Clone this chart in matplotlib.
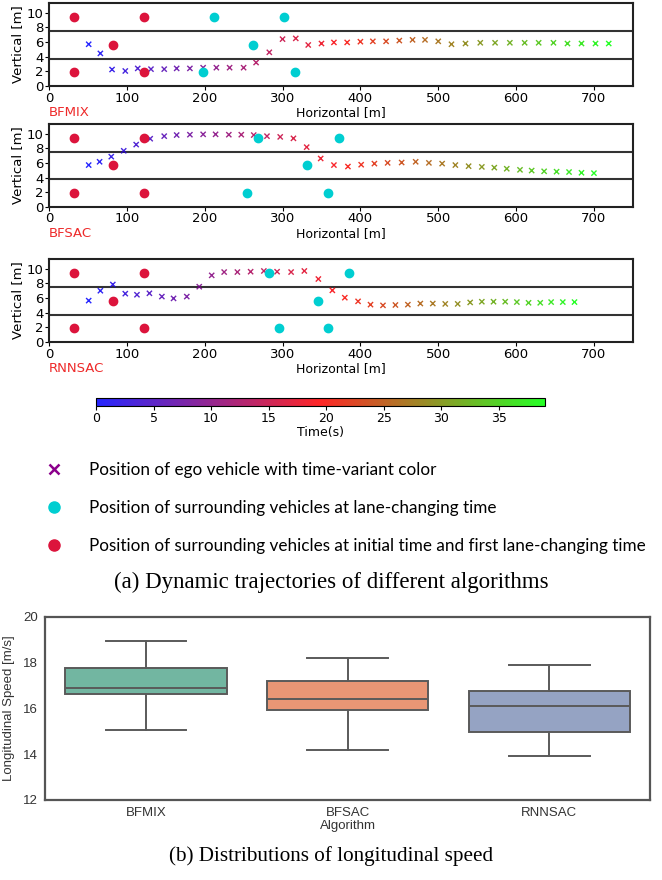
import matplotlib.pyplot as plt
import numpy as np
from matplotlib.colors import LinearSegmentedColormap, Normalize
from matplotlib.cm import ScalarMappable
from matplotlib.lines import Line2D

# ego vehicle positions, one sample per second (t = 0..39)
bfmix_x = [51, 66, 81, 98, 114, 131, 148, 164, 181, 198, 215, 232, 250, 266, 283, 300, 317, 333, 350,
           366, 383, 400, 416, 433, 450, 467, 483, 500, 517, 535, 554, 573, 592, 611, 629, 648, 666, 684, 702, 719]
bfmix_y = [5.7, 4.45, 2.25, 2.05, 2.4, 2.3, 2.3, 2.4, 2.4, 2.5, 2.5, 2.5, 2.5, 3.2, 4.6, 6.4, 6.5, 5.6, 5.8,
           5.95, 5.95, 6.05, 6.1, 6.1, 6.2, 6.3, 6.3, 6.1, 5.7, 5.8, 5.9, 5.9, 5.9, 5.9, 5.9, 5.9, 5.8, 5.8, 5.8, 5.8]
bfsac_x = [51, 65, 80, 96, 112, 130, 148, 164, 181, 198, 214, 231, 247, 263, 280, 297, 314, 331, 349,
           366, 384, 401, 418, 435, 453, 471, 488, 505, 522, 539, 556, 572, 588, 605, 620, 636, 652, 668, 684, 700]
bfsac_y = [5.7, 6.15, 6.85, 7.65, 8.5, 9.3, 9.65, 9.8, 9.85, 9.9, 9.9, 9.85, 9.85, 9.8, 9.65, 9.55, 9.35, 8.15, 6.6,
           5.7, 5.5, 5.75, 5.9, 6.0, 6.05, 6.15, 6.0, 5.9, 5.7, 5.55, 5.45, 5.35, 5.2, 5.05, 4.95, 4.85, 4.8, 4.75, 4.65, 4.6]
rnnsac_x = [51, 66, 82, 98, 113, 129, 145, 160, 177, 193, 209, 225, 242, 259, 276, 293, 311, 328, 346,
            364, 380, 397, 413, 429, 445, 461, 477, 493, 509, 525, 541, 556, 571, 586, 601, 616, 631, 645, 660, 675]
rnnsac_y = [5.65, 7.0, 7.85, 6.6, 6.45, 6.65, 6.2, 5.95, 6.2, 7.55, 9.1, 9.55, 9.55, 9.6, 9.7, 9.6, 9.55, 9.7, 8.6,
            7.05, 6.05, 5.55, 5.1, 5.0, 5.05, 5.1, 5.25, 5.25, 5.2, 5.2, 5.4, 5.5, 5.5, 5.5, 5.45, 5.35, 5.35, 5.45, 5.45, 5.45]

# surrounding vehicles at initial / first lane-change time (same for all)
red_x = [32, 122, 82, 32, 122]
red_y = [9.4, 9.4, 5.65, 1.9, 1.9]

# surrounding vehicles at lane-changing time
bfmix_cx = [212, 302, 262, 198, 316]
bfsac_cx = [268, 372, 332, 254, 358]
rnnsac_cx = [282, 386, 346, 296, 358]
cyan_y = [9.4, 9.4, 5.65, 1.9, 1.9]

algos = ['BFMIX', 'BFSAC', 'RNNSAC']
lanes = [3.75, 7.5]

# speed distribution (box stats)
spd_whislo = [15.07, 14.2, 13.9]
spd_q1 = [16.64, 15.94, 14.98]
spd_med = [16.89, 16.42, 16.09]
spd_q3 = [17.78, 17.18, 16.76]
spd_whishi = [18.95, 18.22, 17.88]
box_colors = ['#72b6a1', '#e99675', '#95a3c3']

cmap = LinearSegmentedColormap.from_list('time', ['blue', 'red', 'lime'])
norm = Normalize(vmin=0, vmax=39)

fig = plt.figure(figsize=(6.62, 8.80), dpi=100)

panels = [
    (bfmix_x, bfmix_y, bfmix_cx, 0.9023),
    (bfsac_x, bfsac_y, bfsac_cx, 0.765),
    (rnnsac_x, rnnsac_y, rnnsac_cx, 0.6114),
]
for name, (ex, ey, cx, bottom) in zip(algos, panels):
    ax = fig.add_axes([0.074, bottom, 0.882, 0.094])
    for ln in lanes:
        ax.axhline(ln, color='#333333', lw=1.5, zorder=1)
    t = np.arange(len(ex))
    ax.scatter(ex, ey, c=t, cmap=cmap, norm=norm, marker='x', s=14, linewidths=1, alpha=0.85, zorder=3)
    ax.scatter(red_x, red_y, color='#dc143c', s=36, zorder=4)
    ax.scatter(cx, cyan_y, color='#00ced1', s=36, zorder=4)
    ax.set_xlim(0, 750)
    ax.set_ylim(0, 11.3)
    ax.set_yticks([0, 2, 4, 6, 8, 10])
    ax.set_xticks([0, 100, 200, 300, 400, 500, 600, 700])
    ax.tick_params(labelsize=9.5, length=3, pad=1)
    ax.set_xlabel('Horizontal [m]', fontsize=9, labelpad=1)
    ax.set_ylabel('Vertical [m]', fontsize=9.5, labelpad=2)
    for sp in ax.spines.values():
        sp.set_linewidth(1.5)
        sp.set_color('#222222')
    ax.text(0.0, -0.245, name, transform=ax.transAxes, color='#ee2a2a', fontsize=9.5, va='top', ha='left')

# colorbar
cax = fig.add_axes([0.145, 0.5386, 0.678, 0.0095])
cb = fig.colorbar(ScalarMappable(norm=norm, cmap=cmap), cax=cax, orientation='horizontal')
cb.solids.set_alpha(0.85)
cb.set_ticks([0, 5, 10, 15, 20, 25, 30, 35])
cb.ax.tick_params(labelsize=9, length=3, pad=1)
cb.set_label('Time(s)', fontsize=9, labelpad=1)
cb.outline.set_linewidth(0.8)

# legend
handles = [
    Line2D([], [], marker='x', ls='none', color='#8b008b', markersize=7, mew=1.8),
    Line2D([], [], marker='o', ls='none', color='#00ced1', markersize=8),
    Line2D([], [], marker='o', ls='none', color='#dc143c', markersize=8),
]
labels = [
    'Position of ego vehicle with time-variant color',
    'Position of surrounding vehicles at lane-changing time',
    'Position of surrounding vehicles at initial time and first lane-changing time',
]
fig.legend(handles, labels, loc='upper left', bbox_to_anchor=(0.05, 0.485), frameon=False,
           prop={'family': 'Lato', 'size': 12.3}, labelspacing=1.3, handletextpad=1.3,
           handlelength=1.5, borderpad=0)

fig.text(0.5, 0.338, '(a) Dynamic trajectories of different algorithms', ha='center', va='center',
         family='Liberation Serif', fontsize=16.5)

# box plot
bx = fig.add_axes([0.068, 0.091, 0.914, 0.208])
stats = []
for i, name in enumerate(algos):
    stats.append({'label': name, 'whislo': spd_whislo[i], 'q1': spd_q1[i], 'med': spd_med[i],
                  'q3': spd_q3[i], 'whishi': spd_whishi[i], 'fliers': []})
gray = '#5a5a5a'
bp = bx.bxp(stats, positions=[0, 1, 2], widths=0.8, patch_artist=True, showfliers=False,
            boxprops=dict(edgecolor=gray, linewidth=1.4),
            medianprops=dict(color=gray, linewidth=1.4),
            whiskerprops=dict(color=gray, linewidth=1.4),
            capprops=dict(color=gray, linewidth=1.4))
for patch, col in zip(bp['boxes'], box_colors):
    patch.set_facecolor(col)
bx.set_xlim(-0.5, 2.5)
bx.set_ylim(12, 20)
bx.set_yticks([12, 14, 16, 18, 20])
bx.tick_params(length=0, labelsize=9.5, labelcolor='#333333', pad=5)
for lab in bx.get_xticklabels() + bx.get_yticklabels():
    lab.set_family('Liberation Sans')
bx.set_xlabel('Algorithm', family='Liberation Sans', fontsize=9.5, color='#333333', labelpad=1)
bx.set_ylabel('Longitudinal Speed [m/s]', family='Liberation Sans', fontsize=9.5, color='#333333', labelpad=6)
for sp in bx.spines.values():
    sp.set_linewidth(1.6)
    sp.set_color('#555555')

fig.text(0.5, 0.027, '(b) Distributions of longitudinal speed', ha='center', va='center',
         family='Liberation Serif', fontsize=15.2)

fig.savefig('out.png', dpi=100)
